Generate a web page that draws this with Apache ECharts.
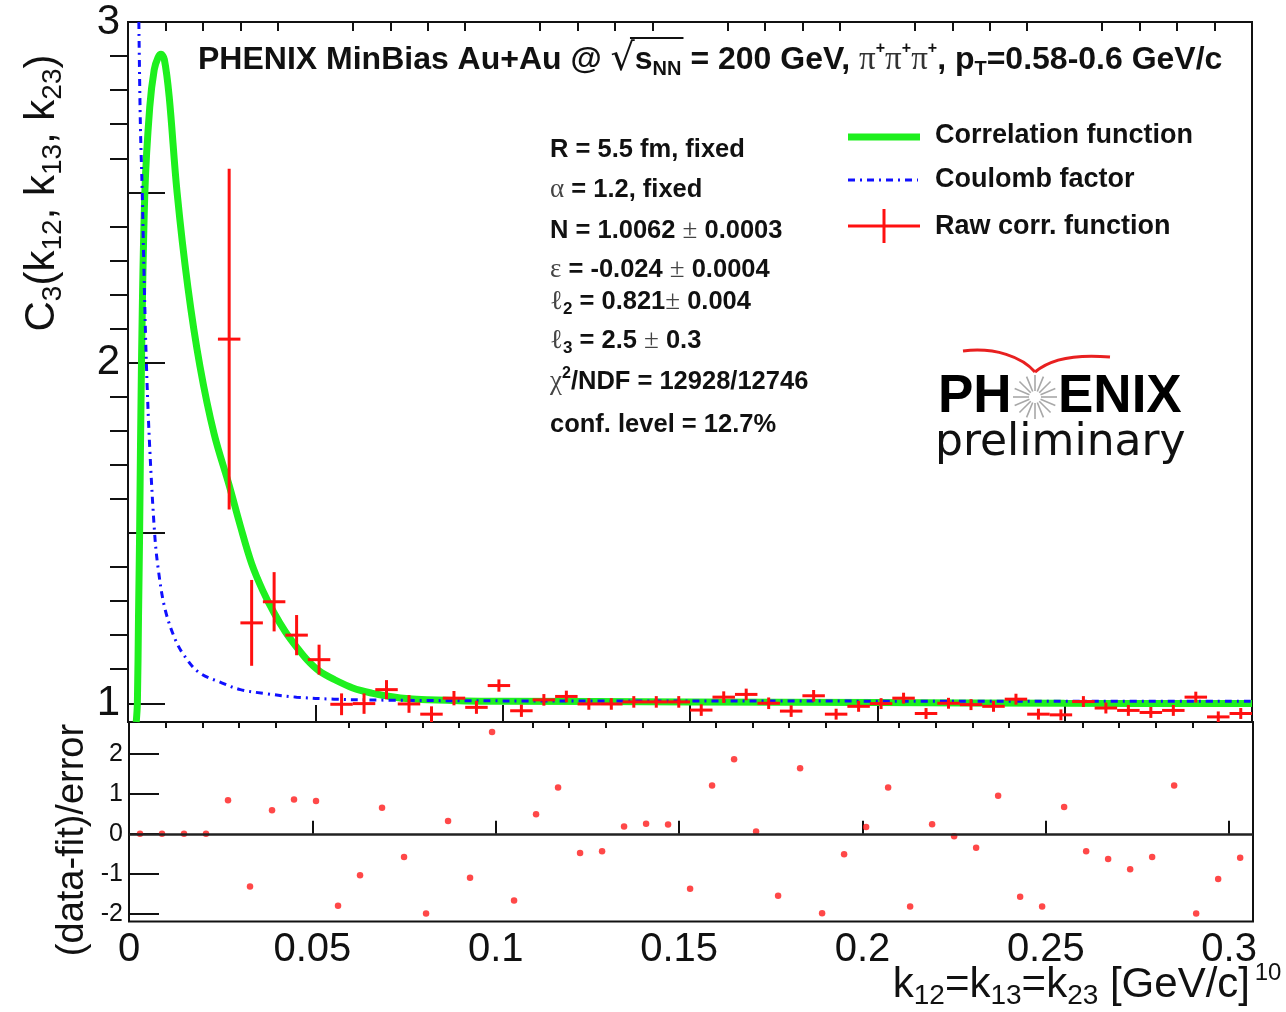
<!DOCTYPE html>
<html>
<head>
<meta charset="utf-8">
<title>PHENIX C3 pi+pi+pi+</title>
<script src="https://cdn.jsdelivr.net/npm/echarts@6/dist/echarts.min.js"></script>
<style>
  html, body { margin: 0; padding: 0; background: #fff; }
  #chart { width: 1286px; height: 1012px; }
</style>
</head>
<body>
<div id="chart"></div>
<script>
// bin centres, k12=k13=k23 [GeV/c]
const kBins = [
  0.003, 0.009, 0.015, 0.021, 0.027, 0.033, 0.039, 0.045, 0.051, 0.057,
  0.063, 0.069, 0.075, 0.081, 0.087, 0.093, 0.099, 0.105, 0.111, 0.117,
  0.123, 0.129, 0.135, 0.141, 0.147, 0.153, 0.159, 0.165, 0.171, 0.177,
  0.183, 0.189, 0.195, 0.201, 0.207, 0.213, 0.219, 0.225, 0.231, 0.237,
  0.243, 0.249, 0.255, 0.261, 0.267, 0.273, 0.279, 0.285, 0.291, 0.297,
  0.303,
];
const binHalfWidth = 0.003;

// raw correlation function C3 and its errors (null = empty bin / off the frame)
const c3Values = [
  null, null, null, null, 2.069, 1.236, 1.298, 1.200, 1.128, 0.997,
  0.999, 1.040, 0.998, 0.968, 1.015, 0.988, 1.052, 0.978, 1.010, 1.020,
  0.998, 0.998, 1.004, 1.004, 1.004, 0.980, 1.018, 1.026, 1.000, 0.977,
  1.022, 0.968, 0.991, 0.999, 1.015, 0.970, 1.000, 0.996, 0.991, 1.012,
  0.968, 0.966, 1.005, 0.986, 0.979, 0.973, 0.979, 1.018, 0.960, 0.970,
  null,
];
const c3Errors = [
  null, null, null, null, 0.500, 0.126, 0.087, 0.059, 0.044, 0.032,
  0.030, 0.028, 0.026, 0.023, 0.021, 0.019, 0.018, 0.018, 0.017, 0.017,
  0.017, 0.017, 0.017, 0.017, 0.017, 0.017, 0.017, 0.017, 0.017, 0.017,
  0.017, 0.016, 0.016, 0.016, 0.016, 0.016, 0.016, 0.016, 0.016, 0.016,
  0.016, 0.016, 0.016, 0.016, 0.016, 0.016, 0.016, 0.016, 0.016, 0.016,
  null,
];

// (data-fit)/error
const residuals = [
  0, 0, 0, 0, 0.84, -1.32, 0.59, 0.86, 0.82, -1.80,
  -1.04, 0.65, -0.58, -2.00, 0.32, -1.10, 2.55, -1.67, 0.49, 1.16,
  -0.48, -0.44, 0.18, 0.25, 0.23, -1.38, 1.21, 1.87, 0.06, -1.55,
  1.64, -1.99, -0.51, 0.17, 1.16, -1.82, 0.24, -0.06, -0.35, 0.95,
  -1.58, -1.82, 0.67, -0.44, -0.63, -0.89, -0.58, 1.21, -2.00, -1.13,
  -0.60,
];

// fitted correlation function
const fitK = [
  0.0022, 0.0025, 0.0028, 0.0031, 0.0036, 0.0045, 0.0058, 0.0070, 0.0080, 0.0088,
  0.0097, 0.0110, 0.0131, 0.0160, 0.0192, 0.0230, 0.0270, 0.0300, 0.0330, 0.0360,
  0.0390, 0.0420, 0.0450, 0.0480, 0.0510, 0.0550, 0.0600, 0.0650, 0.0700, 0.0750,
  0.0800, 0.0900, 0.1000, 0.1500, 0.2000, 0.2500, 0.3000,
];
const fitC3 = [
  0.945, 1.000, 1.250, 1.500, 2.000, 2.500, 2.750, 2.860, 2.895, 2.905,
  2.890, 2.780, 2.500, 2.220, 1.990, 1.790, 1.640, 1.520, 1.410, 1.330,
  1.265, 1.210, 1.165, 1.125, 1.095, 1.070, 1.045, 1.030, 1.020, 1.013,
  1.010, 1.007, 1.006, 1.004, 1.002, 1.000, 0.999,
];

// Coulomb factor
const coulombK = [
  0.0029, 0.0033, 0.0038, 0.0043, 0.0049, 0.0058, 0.0071, 0.0080, 0.0098, 0.0125,
  0.0150, 0.0190, 0.0250, 0.0300, 0.0370, 0.0450, 0.0550, 0.0700, 0.1000, 0.3000,
];
const coulombC3 = [
  3.000, 2.700, 2.500, 2.250, 2.000, 1.750, 1.500, 1.400, 1.280, 1.190,
  1.140, 1.090, 1.060, 1.040, 1.028, 1.018, 1.012, 1.009, 1.007, 1.006,
];

// ticks
const xMajorTicks = [0, 0.05, 0.1, 0.15, 0.2, 0.25, 0.3];
const xMinorTicks = [
  0.01, 0.02, 0.03, 0.04, 0.06, 0.07, 0.08, 0.09, 0.11, 0.12, 0.13, 0.14,
  0.16, 0.17, 0.18, 0.19, 0.21, 0.22, 0.23, 0.24, 0.26, 0.27, 0.28, 0.29,
];
const c3MajorTicks = [1, 1.5, 2, 2.5, 3];
const c3TickLabels = [1, 2, 3];
const c3MinorTicks = [
  1.1, 1.2, 1.3, 1.4, 1.6, 1.7, 1.8, 1.9, 2.1, 2.2, 2.3, 2.4, 2.6, 2.7, 2.8, 2.9,
];
const residTicks = [-2, -1, 0, 1, 2];

const FONT = "'Liberation Sans', Arial, sans-serif";
const GREEK = "'Liberation Serif', 'DejaVu Serif', serif";
const INK = "#111";

const chart = echarts.init(document.getElementById("chart"), null, { renderer: "canvas" });

const tickAxis = (extra) =>
  Object.assign(
    {
      type: "value",
      axisLine: { show: false },
      splitLine: { show: false },
      axisLabel: { show: false },
    },
    extra,
  );

const crossData = [];
kBins.forEach((k, i) => {
  if (c3Values[i] != null) crossData.push([k, c3Values[i], c3Errors[i]]);
});

// overline of the square root in the title, placed from measured text widths
const measure = document.createElement("canvas").getContext("2d");
const textWidth = (font, s) => {
  measure.font = font;
  return measure.measureText(s).width;
};
const titleX = 198;
const preW = textWidth("bold 32px 'Liberation Sans'", "PHENIX MinBias Au+Au @ ");
const rootW = textWidth("38px 'DejaVu Sans'", "√");
const sW = textWidth("bold 32px 'Liberation Sans'", "s");
const nnW = textWidth("bold 20px 'Liberation Sans'", "NN");

const starSpokes = [];
for (let a = 0; a < 16; a++) {
  const t = (a * Math.PI) / 8;
  starSpokes.push({
    type: "line",
    shape: {
      x1: 1035 + 6 * Math.cos(t), y1: 397 + 6 * Math.sin(t),
      x2: 1035 + 22 * Math.cos(t), y2: 397 + 22 * Math.sin(t),
    },
    style: { stroke: "#a8a8a8", lineWidth: 1.6 },
  });
}

const statLine = (y, text) => ({
  type: "text",
  x: 550,
  y: y,
  style: {
    text: text,
    verticalAlign: "middle",
    rich: {
      b: { fontFamily: FONT, fontWeight: "bold", fontSize: 25.5, lineHeight: 32, fill: INK },
      g: { fontFamily: GREEK, fontSize: 27, lineHeight: 32, fill: "#444" },
      sub: { fontFamily: FONT, fontWeight: "bold", fontSize: 17, lineHeight: 13, verticalAlign: "bottom", fill: INK },
      sup: { fontFamily: FONT, fontWeight: "bold", fontSize: 16, lineHeight: 13, verticalAlign: "top", fill: INK },
    },
  },
});

const legendText = (y, text) => ({
  type: "text",
  x: 935,
  y: y,
  style: {
    text: text,
    fontFamily: FONT,
    fontWeight: "bold",
    fontSize: 27,
    fill: INK,
    verticalAlign: "middle",
  },
});

chart.setOption({
  animation: false,
  backgroundColor: "#fff",
  grid: [
    { left: 128, top: 22, width: 1124, height: 700, show: true, borderColor: "#111", borderWidth: 2, backgroundColor: "transparent" },
    { left: 129, top: 722, width: 1124, height: 199.6, show: true, borderColor: "#111", borderWidth: 2, backgroundColor: "transparent" },
  ],
  xAxis: [
    tickAxis({
      gridIndex: 0, min: 0, max: 0.3,
      axisTick: { inside: true, length: 17, customValues: xMajorTicks, lineStyle: { color: "#111", width: 2 } },
    }),
    tickAxis({
      gridIndex: 0, min: 0, max: 0.3,
      axisTick: { inside: true, length: 9, customValues: xMinorTicks, lineStyle: { color: "#111", width: 2 } },
    }),
    tickAxis({
      gridIndex: 1, min: 0, max: 0.3065,
      axisTick: { inside: true, length: 13, customValues: xMajorTicks, lineStyle: { color: "#111", width: 2 } },
      axisLabel: {
        show: true, customValues: xMajorTicks, margin: 8,
        fontFamily: FONT, fontSize: 40, color: INK,
      },
    }),
    tickAxis({
      gridIndex: 1, min: 0, max: 0.3065,
      axisTick: { inside: true, length: 6, customValues: xMinorTicks, lineStyle: { color: "#111", width: 2 } },
    }),
  ],
  yAxis: [
    tickAxis({
      gridIndex: 0, min: 0.945, max: 3,
      axisTick: { inside: true, length: 37, customValues: c3MajorTicks, lineStyle: { color: "#111", width: 2 } },
      axisLabel: {
        show: true, customValues: c3TickLabels, margin: 8,
        fontFamily: FONT, fontSize: 42, color: INK,
      },
    }),
    tickAxis({
      gridIndex: 0, min: 0.945, max: 3,
      axisTick: { inside: true, length: 18, customValues: c3MinorTicks, lineStyle: { color: "#111", width: 2 } },
    }),
    tickAxis({
      gridIndex: 1, min: -2.2, max: 2.8,
      axisTick: { inside: true, length: 30, customValues: residTicks, lineStyle: { color: "#111", width: 2 } },
      axisLabel: {
        show: true, customValues: residTicks, margin: 6,
        fontFamily: FONT, fontSize: 25, color: INK,
      },
    }),
  ],
  series: [
    {
      name: "Correlation function",
      type: "line",
      xAxisIndex: 0,
      yAxisIndex: 0,
      data: fitK.map((k, i) => [k, fitC3[i]]),
      smooth: 0.35,
      showSymbol: false,
      clip: true,
      lineStyle: { color: "#1ef01e", width: 7 },
      z: 2,
    },
    {
      name: "Coulomb factor",
      type: "line",
      xAxisIndex: 0,
      yAxisIndex: 0,
      data: coulombK.map((k, i) => [k, coulombC3[i]]),
      smooth: 0.35,
      showSymbol: false,
      clip: true,
      lineStyle: { color: "#1010ff", width: 3, type: [7, 5, 2, 5] },
      z: 3,
    },
    {
      name: "Raw corr. function",
      type: "custom",
      xAxisIndex: 0,
      yAxisIndex: 0,
      clip: true,
      z: 4,
      data: crossData,
      renderItem: (params, api) => {
        const k = api.value(0);
        const v = api.value(1);
        const e = api.value(2);
        const lo = api.coord([k, v - e]);
        const hi = api.coord([k, v + e]);
        const left = api.coord([k - binHalfWidth, v]);
        const right = api.coord([k + binHalfWidth, v]);
        const style = { stroke: "#ff1010", lineWidth: 3 };
        return {
          type: "group",
          children: [
            { type: "line", shape: { x1: lo[0], y1: lo[1], x2: hi[0], y2: hi[1] }, style: style },
            { type: "line", shape: { x1: left[0], y1: left[1], x2: right[0], y2: right[1] }, style: style },
          ],
        };
      },
    },
    {
      name: "(data-fit)/error",
      type: "scatter",
      xAxisIndex: 2,
      yAxisIndex: 2,
      data: kBins.map((k, i) => [k, residuals[i]]),
      symbol: "circle",
      symbolSize: 6.5,
      itemStyle: { color: "#ff1a1a" },
      z: 3,
      markLine: {
        silent: true,
        symbol: "none",
        label: { show: false },
        lineStyle: { color: "#222", width: 2.5, type: "solid" },
        data: [{ yAxis: 0 }],
        z: 4,
      },
    },
  ],
  graphic: [
    // title
    {
      type: "text",
      x: titleX,
      y: 60,
      style: {
        text:
          "{b|PHENIX MinBias Au+Au @ }{r|√}{b|s}{sub|NN}{b| = 200 GeV, }" +
          "{g|π}{sup|+}{g|π}{sup|+}{g|π}{sup|+}{b|, p}{sub|T}{b|=0.58-0.6 GeV/c}",
        verticalAlign: "middle",
        rich: {
          b: { fontFamily: FONT, fontWeight: "bold", fontSize: 32, lineHeight: 38, fill: INK },
          r: { fontFamily: "'DejaVu Sans'", fontSize: 38, lineHeight: 38, fill: INK },
          g: { fontFamily: GREEK, fontSize: 33, lineHeight: 38, fill: "#333" },
          sub: { fontFamily: FONT, fontWeight: "bold", fontSize: 20, lineHeight: 14, verticalAlign: "bottom", fill: INK },
          sup: { fontFamily: FONT, fontWeight: "bold", fontSize: 16, lineHeight: 14, verticalAlign: "top", fill: INK },
        },
      },
    },
    {
      type: "line",
      shape: {
        x1: titleX + preW + rootW * 0.8, y1: 38,
        x2: titleX + preW + rootW + sW + nnW + 2, y2: 38,
      },
      style: { stroke: INK, lineWidth: 2 },
    },
    // fit results
    statLine(150, "{b|R = 5.5 fm, fixed}"),
    statLine(190, "{g|α}{b| = 1.2, fixed}"),
    statLine(231, "{b|N = 1.0062 }{g|±}{b| 0.0003}"),
    statLine(270, "{g|ε}{b| = -0.024 }{g|±}{b| 0.0004}"),
    statLine(302, "{g|ℓ}{sub|2}{b| = 0.821}{g|±}{b| 0.004}"),
    statLine(341, "{g|ℓ}{sub|3}{b| = 2.5 }{g|±}{b| 0.3}"),
    statLine(382, "{g|χ}{sup|2}{b|/NDF = 12928/12746}"),
    statLine(425, "{b|conf. level = 12.7%}"),
    // legend
    { type: "line", shape: { x1: 848, y1: 137, x2: 920, y2: 137 }, style: { stroke: "#1ef01e", lineWidth: 7 } },
    legendText(136, "Correlation function"),
    { type: "line", shape: { x1: 848, y1: 180, x2: 918, y2: 180 }, style: { stroke: "#1010ff", lineWidth: 3, lineDash: [7, 5, 2, 5] } },
    legendText(180, "Coulomb factor"),
    { type: "line", shape: { x1: 848, y1: 226, x2: 920, y2: 226 }, style: { stroke: "#ff1010", lineWidth: 3 } },
    { type: "line", shape: { x1: 884, y1: 209, x2: 884, y2: 243 }, style: { stroke: "#ff1010", lineWidth: 3 } },
    legendText(227, "Raw corr. function"),
    // PHENIX preliminary logo
    {
      type: "bezierCurve",
      shape: { x1: 963, y1: 351, cpx1: 995, cpy1: 347, cpx2: 1022, cpy2: 357, x2: 1035, y2: 372 },
      style: { stroke: "#e82020", lineWidth: 3, fill: null },
    },
    {
      type: "bezierCurve",
      shape: { x1: 1035, y1: 372, cpx1: 1050, cpy1: 359, cpx2: 1075, cpy2: 354, x2: 1110, y2: 357 },
      style: { stroke: "#e82020", lineWidth: 3, fill: null },
    },
    { type: "group", children: starSpokes },
    {
      type: "text", x: 938, y: 397,
      style: { text: "PH", fontFamily: FONT, fontWeight: "bold", fontSize: 53, fill: "#000", verticalAlign: "middle" },
    },
    {
      type: "text", x: 1058, y: 397,
      style: { text: "ENIX", fontFamily: FONT, fontWeight: "bold", fontSize: 53, fill: "#000", verticalAlign: "middle" },
    },
    {
      type: "text", x: 935, y: 444,
      style: { text: "preliminary", fontFamily: "'DejaVu Sans', sans-serif", fontSize: 44, fill: "#111", verticalAlign: "middle" },
    },
    // axis titles
    {
      type: "text", x: 42, y: 193, rotation: Math.PI / 2,
      style: {
        text: "{m|C}{s|3}{m|(k}{s|12}{m|, k}{s|13}{m|, k}{s|23}{m|)}",
        align: "center",
        verticalAlign: "middle",
        rich: {
          m: { fontFamily: FONT, fontSize: 42, lineHeight: 50, fill: INK },
          s: { fontFamily: FONT, fontSize: 28, lineHeight: 22, verticalAlign: "bottom", fill: INK },
        },
      },
    },
    {
      type: "text", x: 73, y: 840, rotation: Math.PI / 2,
      style: {
        text: "(data-fit)/error",
        fontFamily: FONT, fontSize: 38, fill: INK,
        align: "center", verticalAlign: "middle",
      },
    },
    {
      type: "text", x: 1250, y: 985,
      style: {
        text: "{m|k}{s|12}{m|=k}{s|13}{m|=k}{s|23}{m| [GeV/c]}",
        align: "right",
        verticalAlign: "middle",
        rich: {
          m: { fontFamily: FONT, fontSize: 42, lineHeight: 50, fill: INK },
          s: { fontFamily: FONT, fontSize: 28, lineHeight: 22, verticalAlign: "bottom", fill: INK },
        },
      },
    },
    {
      type: "text", x: 1268, y: 973,
      style: { text: "10", fontFamily: FONT, fontSize: 24, fill: INK, align: "center", verticalAlign: "middle" },
    },
  ],
});

window.addEventListener("resize", () => chart.resize());
</script>
</body>
</html>
